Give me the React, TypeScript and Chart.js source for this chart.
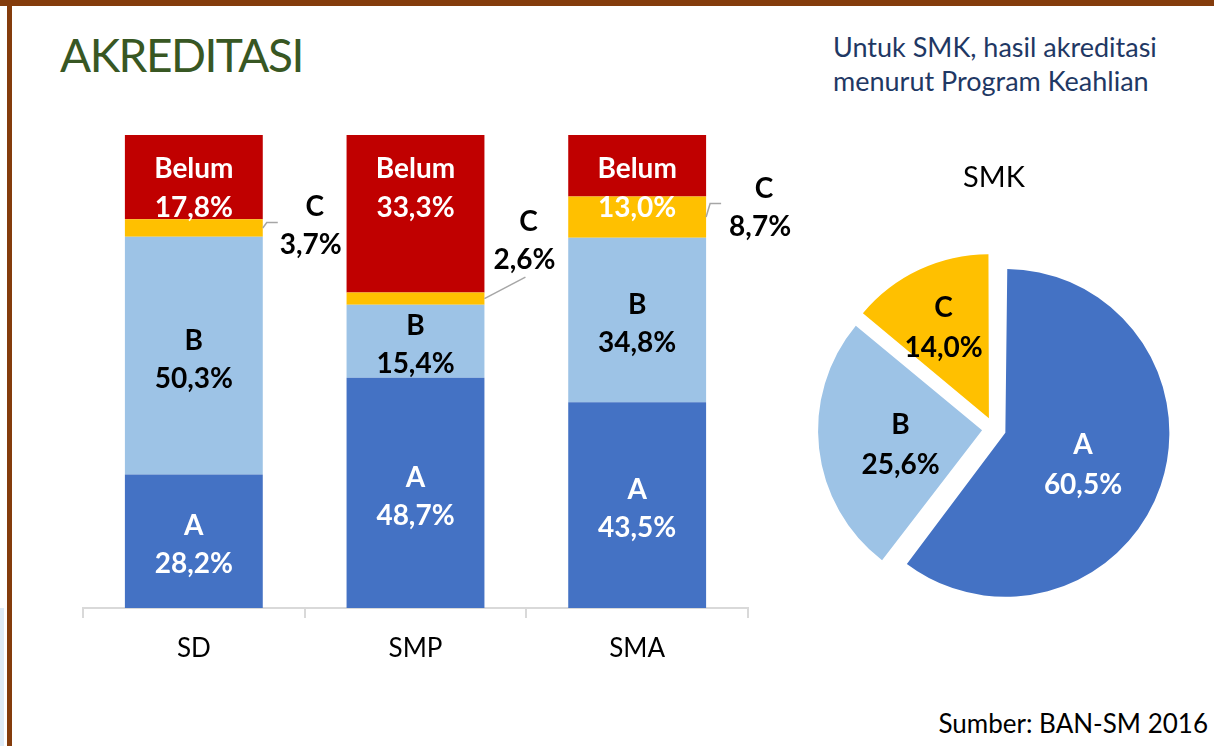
import React, { useEffect, useRef } from 'react';
import { Chart, registerables } from 'chart.js';

Chart.register(...registerables);

// ---- data ----
const categories = ['SD', 'SMP', 'SMA'];
const gradeA = [28.2, 48.7, 43.5];
const gradeB = [50.3, 15.4, 34.8];
const gradeC = [3.7, 2.6, 8.7];
const gradeBelum = [17.8, 33.3, 13.0];

const pieTitle = 'SMK';
const pieLabels = ['A', 'B', 'C'];
const pieValues = [60.5, 25.6, 14.0];

// ---- styles ----
const COLORS: Record<string, string> = { A: '#4472C4', B: '#9DC3E6', C: '#FFC000', Belum: '#C00000' };
const FONT = 'Lato, "Open Sans", sans-serif';
const fmt = (v: number) => v.toFixed(1).replace('.', ',') + '%';

// placement of the outside "C" labels, relative to the bar's right edge / segment middle
const cLabelShift = [
  { dx: 48, dy: 0 },
  { dx: 40, dy: -56 },
  { dx: 54, dy: -8 },
];
// radial position of pie labels (fraction of radius)
const pieLabelRadius = [0.5, 0.5, 0.65];

const barLabelPlugin = {
  id: 'barLabels',
  afterDatasetsDraw(chart: any) {
    const ctx = chart.ctx as CanvasRenderingContext2D;
    ctx.save();
    ctx.font = `bold 28px ${FONT}`;
    ctx.textAlign = 'center';
    ctx.textBaseline = 'alphabetic';
    chart.data.datasets.forEach((ds: any, di: number) => {
      const meta = chart.getDatasetMeta(di);
      meta.data.forEach((bar: any, i: number) => {
        const p = bar.getProps(['x', 'y', 'base', 'width'], true);
        const top = Math.min(p.y, p.base);
        const bottom = Math.max(p.y, p.base);
        const mid = (top + bottom) / 2;
        const name = ds.label as string;
        const value = fmt(ds.data[i]);
        if (name === 'Belum') {
          ctx.fillStyle = '#fff';
          ctx.fillText(name, p.x, top + 43);
          ctx.fillText(value, p.x, top + 82);
        } else if (name === 'C') {
          const right = p.x + p.width / 2;
          const s = cLabelShift[i];
          const cx = right + s.dx;
          const b1 = mid - 11.5 + s.dy;
          const b2 = b1 + 38;
          ctx.strokeStyle = '#A6A6A6';
          ctx.lineWidth = 1.5;
          ctx.beginPath();
          ctx.moveTo(right, mid);
          if (s.dy < -30) {
            ctx.lineTo(cx + 1, b2 + 8);
          } else {
            ctx.lineTo(right + 4, b1 + 6);
            ctx.lineTo(right + 15, b1 + 6);
          }
          ctx.stroke();
          ctx.fillStyle = '#000';
          ctx.fillText(name, cx + 4, b1);
          ctx.fillText(value, cx, b2);
        } else {
          ctx.fillStyle = name === 'A' ? '#fff' : '#000';
          ctx.fillText(name, p.x, mid - 6);
          ctx.fillText(value, p.x, mid + 32);
        }
      });
    });
    ctx.restore();
  },
};

const pieLabelPlugin = {
  id: 'pieLabels',
  beforeDatasetsDraw(chart: any) {
    // keep every exploded slice at the same radius (Chart.js enlarges wide slices)
    const meta = chart.getDatasetMeta(0);
    const R = meta.controller.outerRadius;
    meta.data.forEach((arc: any) => {
      const off = (arc.options.offset || 0) / 4;
      const fix = 1 - Math.sin(Math.min(Math.PI, arc.circumference));
      arc.outerRadius = R - off * fix;
    });
  },
  afterDatasetsDraw(chart: any) {
    const ctx = chart.ctx as CanvasRenderingContext2D;
    const meta = chart.getDatasetMeta(0);
    const R = meta.controller.outerRadius;
    ctx.save();
    ctx.font = `bold 28px ${FONT}`;
    ctx.textAlign = 'center';
    ctx.textBaseline = 'alphabetic';
    meta.data.forEach((arc: any, i: number) => {
      const midA = (arc.startAngle + arc.endAngle) / 2;
      const t = (arc.options.offset || 0) / 4;
      const d = t + pieLabelRadius[i] * R;
      const cx = arc.x + Math.cos(midA) * d;
      const cy = arc.y + Math.sin(midA) * d;
      ctx.fillStyle = i === 0 ? '#fff' : '#000';
      ctx.fillText(String(chart.data.labels[i]), cx, cy - 5);
      ctx.fillText(fmt(chart.data.datasets[0].data[i]), cx, cy + 35);
    });
    ctx.restore();
  },
};

export default function App() {
  const barRef = useRef<HTMLCanvasElement | null>(null);
  const pieRef = useRef<HTMLCanvasElement | null>(null);

  useEffect(() => {
    const bar = new Chart(barRef.current as HTMLCanvasElement, {
      type: 'bar',
      data: {
        labels: categories,
        datasets: [
          { label: 'A', data: gradeA, backgroundColor: COLORS.A },
          { label: 'B', data: gradeB, backgroundColor: COLORS.B },
          { label: 'C', data: gradeC, backgroundColor: COLORS.C },
          { label: 'Belum', data: gradeBelum, backgroundColor: COLORS.Belum },
        ],
      },
      options: {
        animation: false,
        responsive: false,
        events: [],
        layout: { padding: { left: 83, right: 72, top: 135, bottom: 0 } },
        datasets: { bar: { categoryPercentage: 0.622, barPercentage: 1, borderWidth: 0 } } as any,
        scales: {
          x: {
            stacked: true,
            grid: {
              display: true,
              drawOnChartArea: false,
              drawTicks: true,
              tickLength: 10,
              color: '#D9D9D9',
              lineWidth: 2,
              offset: true,
            },
            border: { display: true, color: '#D9D9D9', width: 2 },
            ticks: { color: '#000', font: { family: FONT, size: 26 }, padding: 15 },
            afterFit: (s: any) => {
              s.height = 92;
            },
          } as any,
          y: { stacked: true, display: false, min: 0, max: 100 },
        },
        plugins: { legend: { display: false }, tooltip: { enabled: false } },
      },
      plugins: [barLabelPlugin],
    });

    const pie = new Chart(pieRef.current as HTMLCanvasElement, {
      type: 'pie',
      data: {
        labels: pieLabels,
        datasets: [
          {
            data: pieValues,
            backgroundColor: [COLORS.A, COLORS.B, COLORS.C],
            borderWidth: 0,
            offset: 48,
            hoverOffset: 0,
          } as any,
        ],
      },
      options: {
        animation: false,
        responsive: false,
        events: [],
        radius: 164,
        layout: { padding: { top: 30, left: 0, right: 6, bottom: 6.8 } },
        plugins: {
          legend: { display: false },
          tooltip: { enabled: false },
          title: {
            display: true,
            text: pieTitle,
            color: '#000',
            font: { family: FONT, size: 29, weight: 'normal' },
            padding: { top: 0, bottom: 40 },
          },
        },
      } as any,
      plugins: [pieLabelPlugin],
    });

    return () => {
      bar.destroy();
      pie.destroy();
    };
  }, []);

  return (
    <div
      style={{
        position: 'fixed',
        left: 0,
        top: 0,
        width: 1214,
        height: 746,
        background: '#fff',
        overflow: 'hidden',
        fontFamily: FONT,
      }}
    >
      {/* frame */}
      <div style={{ position: 'absolute', left: 0, top: 0, width: 1214, height: 6, background: '#843C0C' }} />
      <div style={{ position: 'absolute', left: 7, top: 0, width: 5, height: 746, background: '#843C0C' }} />
      <div style={{ position: 'absolute', left: 0, top: 608, width: 4, height: 138, background: '#DEEBF7' }} />

      <div
        style={{
          position: 'absolute',
          left: 60,
          top: 32,
          fontSize: 46,
          lineHeight: '46px',
          letterSpacing: '-1.5px',
          color: '#385723',
          whiteSpace: 'nowrap',
        }}
      >
        AKREDITASI
      </div>
      <div
        style={{
          position: 'absolute',
          left: 833,
          top: 30,
          fontSize: 27,
          lineHeight: '33.5px',
          color: '#1F3864',
          whiteSpace: 'nowrap',
        }}
      >
        Untuk SMK, hasil akreditasi
        <br />
        menurut Program Keahlian
      </div>
      <div
        style={{
          position: 'absolute',
          right: 6,
          top: 710,
          fontSize: 26,
          lineHeight: '26px',
          color: '#000',
          whiteSpace: 'nowrap',
        }}
      >
        Sumber: BAN-SM 2016
      </div>

      <canvas
        ref={barRef}
        width={820}
        height={700}
        style={{ position: 'absolute', left: 0, top: 0, width: 820, height: 700 }}
      />
      <canvas
        ref={pieRef}
        width={434}
        height={500}
        style={{ position: 'absolute', left: 780, top: 130, width: 434, height: 500 }}
      />
    </div>
  );
}
